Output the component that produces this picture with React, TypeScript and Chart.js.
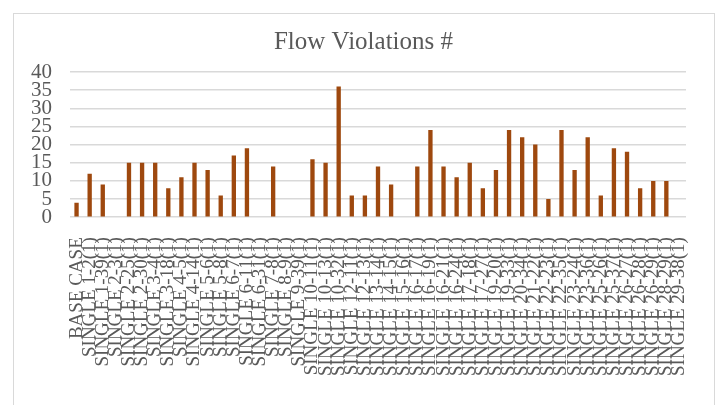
import React, { useEffect, useRef } from "react";
import { Chart, registerables } from "chart.js";

Chart.register(...registerables);

const categories: string[] = [
  "BASE CASE",
  "SINGLE 1-2(1)",
  "SINGLE 1-39(1)",
  "SINGLE 2-3(1)",
  "SINGLE 2-25(1)",
  "SINGLE 2-30(1)",
  "SINGLE 3-4(1)",
  "SINGLE 3-18(1)",
  "SINGLE 4-5(1)",
  "SINGLE 4-14(1)",
  "SINGLE 5-6(1)",
  "SINGLE 5-8(1)",
  "SINGLE 6-7(1)",
  "SINGLE 6-11(1)",
  "SINGLE 6-31(1)",
  "SINGLE 7-8(1)",
  "SINGLE 8-9(1)",
  "SINGLE 9-39(1)",
  "SINGLE 10-11(1)",
  "SINGLE 10-13(1)",
  "SINGLE 10-32(1)",
  "SINGLE 12-11(1)",
  "SINGLE 12-13(1)",
  "SINGLE 13-14(1)",
  "SINGLE 14-15(1)",
  "SINGLE 15-16(1)",
  "SINGLE 16-17(1)",
  "SINGLE 16-19(1)",
  "SINGLE 16-21(1)",
  "SINGLE 16-24(1)",
  "SINGLE 17-18(1)",
  "SINGLE 17-27(1)",
  "SINGLE 19-20(1)",
  "SINGLE 19-33(1)",
  "SINGLE 20-34(1)",
  "SINGLE 21-22(1)",
  "SINGLE 22-23(1)",
  "SINGLE 22-35(1)",
  "SINGLE 23-24(1)",
  "SINGLE 23-36(1)",
  "SINGLE 25-26(1)",
  "SINGLE 25-37(1)",
  "SINGLE 26-27(1)",
  "SINGLE 26-28(1)",
  "SINGLE 26-29(1)",
  "SINGLE 28-29(1)",
  "SINGLE 29-38(1)",
];

const violations: number[] = [
  4, 12, 9, 0, 15, 15, 15, 8, 11, 15, 13, 6, 17, 19, 0, 14, 0, 0, 16, 15, 36, 6, 6, 14,
  9, 0, 14, 24, 14, 11, 15, 8, 13, 24, 22, 20, 5, 24, 13, 22, 6, 19, 18, 8, 10, 10, 0,
];

const yTicks: number[] = [0, 5, 10, 15, 20, 25, 30, 35, 40];

const titleText = "Flow Violations #";

export default function App() {
  const ref = useRef<HTMLCanvasElement | null>(null);

  useEffect(() => {
    if (!ref.current) return;
    const font = "'Liberation Serif', 'Times New Roman', serif";
    const chart = new Chart(ref.current, {
      type: "bar",
      data: {
        labels: categories,
        datasets: [
          {
            label: titleText,
            data: violations,
            backgroundColor: "#9E480E",
            borderWidth: 0,
            barPercentage: 0.33,
            categoryPercentage: 1,
          },
        ],
      },
      options: {
        animation: false,
        responsive: false,
        maintainAspectRatio: false,
        layout: { padding: { left: 13, right: 6, top: 14, bottom: 17 } },
        plugins: {
          legend: { display: false },
          tooltip: { enabled: false },
          title: {
            display: true,
            text: titleText,
            color: "#595959",
            font: { family: font, size: 25, weight: "normal" },
            padding: { top: 13, bottom: 15 },
          },
        },
        scales: {
          x: {
            grid: { display: false },
            border: { display: false },
            ticks: {
              autoSkip: false,
              minRotation: 90,
              maxRotation: 90,
              color: "#595959",
              font: { family: font, size: 19 },
              padding: 12,
            },
          },
          y: {
            min: 0,
            max: 40,
            afterBuildTicks: (axis: any) => {
              axis.ticks = yTicks.map((v) => ({ value: v }));
            },
            grid: { color: "#D9D9D9", lineWidth: 1.5, drawTicks: false },
            border: { display: false },
            ticks: {
              autoSkip: false,
              color: "#595959",
              font: { family: font, size: 21 },
              padding: 18,
            },
          },
          yRight: {
            position: "right",
            display: true,
            min: 0,
            max: 40,
            grid: { display: false, drawTicks: false },
            border: { display: false },
            ticks: { display: false },
            afterFit: (axis: any) => {
              axis.width = 28;
            },
          },
        },
      },
    });
    return () => chart.destroy();
  }, []);

  return (
    <div
      style={{
        position: "fixed",
        left: 0,
        top: 0,
        width: 720,
        height: 405,
        background: "#ffffff",
      }}
    >
      <canvas ref={ref} width={720} height={405} style={{ position: "absolute", left: 0, top: 0 }} />
      <div
        style={{
          position: "absolute",
          left: 13,
          top: 13,
          width: 700,
          height: 400,
          border: "1px solid #D9D9D9",
          pointerEvents: "none",
        }}
      />
    </div>
  );
}
